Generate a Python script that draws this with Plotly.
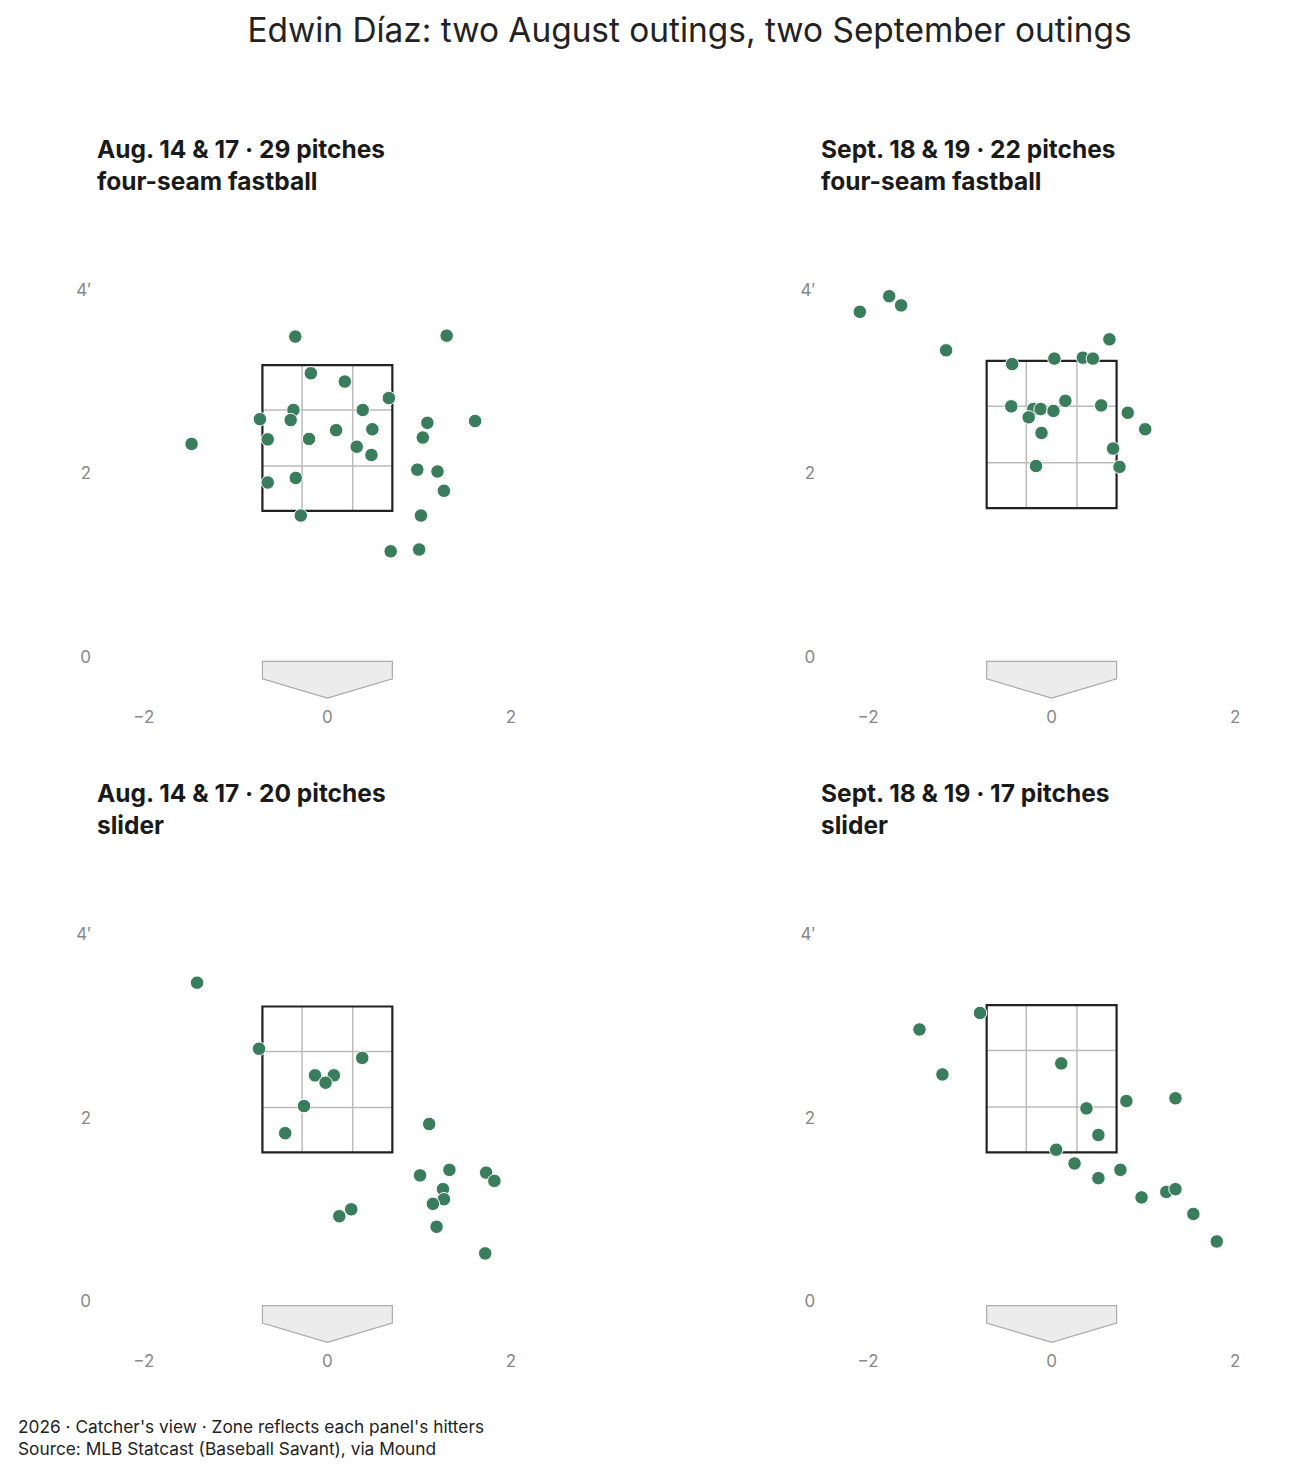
import plotly.graph_objects as go

# pitch locations, catcher's view (feet)
aug_ff_x = [-0.35, 1.30, -0.18, 0.19, 0.67, -0.37, 0.385, -0.735, -0.40, 1.09, 1.61, 0.095, 0.49, -0.65,
            -0.20, -1.48, 1.04, 0.32, 0.48, 0.98, 1.20, -0.345, -0.65, 1.27, -0.29, 1.02, 0.69, 1.00, 0.32]
aug_ff_z = [3.49, 3.50, 3.09, 3.00, 2.82, 2.69, 2.69, 2.59, 2.58, 2.55, 2.57, 2.47, 2.48, 2.37,
            2.375, 2.32, 2.39, 2.29, 2.20, 2.04, 2.02, 1.95, 1.90, 1.81, 1.54, 1.54, 1.15, 1.17, 2.29]

sep_ff_x = [-2.09, -1.77, -1.64, -1.15, 0.63, -0.43, 0.03, 0.34, 0.45, -0.44, -0.20,
            -0.12, 0.02, 0.15, 0.54, -0.25, 0.83, 1.02, -0.11, 0.67, -0.17, 0.74]
sep_ff_z = [3.76, 3.93, 3.83, 3.34, 3.46, 3.19, 3.25, 3.26, 3.25, 2.73, 2.70,
            2.70, 2.68, 2.79, 2.74, 2.61, 2.66, 2.48, 2.44, 2.27, 2.08, 2.07]

aug_sl_x = [-1.42, -0.745, 0.38, -0.135, 0.07, -0.02, -0.255, -0.46, 1.11, 1.01,
            1.33, 1.73, 1.82, 1.26, 1.27, 1.15, 0.26, 0.13, 1.19, 1.72]
aug_sl_z = [3.47, 2.75, 2.65, 2.46, 2.46, 2.38, 2.125, 1.83, 1.93, 1.37,
            1.43, 1.40, 1.31, 1.22, 1.11, 1.06, 1.00, 0.925, 0.81, 0.52]

sep_sl_x = [-1.44, -0.78, -1.19, 0.105, 0.38, 0.815, 1.35, 0.51, 0.05,
            0.25, 0.51, 0.75, 0.98, 1.25, 1.35, 1.545, 1.80]
sep_sl_z = [2.96, 3.14, 2.47, 2.59, 2.10, 2.18, 2.21, 1.81, 1.65,
            1.50, 1.34, 1.43, 1.13, 1.19, 1.22, 0.95, 0.65]

# strike zone top / bottom for each panel's hitters
sz_top = [3.18, 3.225, 3.21, 3.225]
sz_bot = [1.59, 1.62, 1.62, 1.62]

title_line1 = ["Aug. 14 & 17 · 29 pitches", "Sept. 18 & 19 · 22 pitches",
               "Aug. 14 & 17 · 20 pitches", "Sept. 18 & 19 · 17 pitches"]
title_line2 = ["four-seam fastball", "four-seam fastball", "slider", "slider"]

y_tickvals = [0, 2, 4]
y_ticktext = ["0", "2", "4′"]
x_tickvals = [-2, 0, 2]

HALF_PLATE = 0.708
BALL_R = 0.12
GREEN = "#3a7d5c"
FONT = "Inter"
PANEL_H = 504.6  # px height of one panel

panels = [(aug_ff_x, aug_ff_z), (sep_ff_x, sep_ff_z), (aug_sl_x, aug_sl_z), (sep_sl_x, sep_sl_z)]
x_domains = [[0, 0.3878], [0.6122, 1.0], [0, 0.3878], [0.6122, 1.0]]
y_domains = [[0.5607, 1.0], [0.5607, 1.0], [0, 0.4393], [0, 0.4393]]

fig = go.Figure()
shapes = []
annotations = []

for i, (xs, zs) in enumerate(panels):
    ax = "" if i == 0 else str(i + 1)
    fig.add_trace(go.Scatter(
        x=xs, y=zs, xaxis="x" + ax, yaxis="y" + ax, mode="markers",
        marker=dict(size=13.5, color=GREEN, line=dict(color="white", width=1)),
        hoverinfo="skip", showlegend=False,
    ))

    fig.update_layout(**{
        "xaxis" + ax: dict(domain=x_domains[i], range=[-2.5, 2.5], anchor="y" + ax,
                           tickvals=x_tickvals, showgrid=False, zeroline=False, showline=False,
                           ticks="", ticklabelstandoff=2,
                           tickfont=dict(size=17, color="#888888", family=FONT), fixedrange=True),
        "yaxis" + ax: dict(domain=y_domains[i], range=[-0.5, 5.0], anchor="x" + ax,
                           tickvals=y_tickvals, ticktext=y_ticktext, showgrid=False, zeroline=False,
                           showline=False, ticks="", ticklabelstandoff=6,
                           tickfont=dict(size=17, color="#888888", family=FONT), fixedrange=True),
    })

    xr, yr = "x" + ax, "y" + ax
    top, bot = sz_top[i], sz_bot[i]
    # inner grid: thirds of the zone widened by a ball radius
    gw = (HALF_PLATE + BALL_R) * 2 / 3
    glo = bot - BALL_R
    gh = (top - bot + 2 * BALL_R) / 3
    for gx in [-gw / 2, gw / 2]:
        shapes.append(dict(type="line", xref=xr, yref=yr, x0=gx, x1=gx, y0=bot, y1=top,
                           line=dict(color="#bbbbbb", width=1.5), layer="below"))
    for gy in [glo + gh, glo + 2 * gh]:
        shapes.append(dict(type="line", xref=xr, yref=yr, x0=-HALF_PLATE, x1=HALF_PLATE, y0=gy, y1=gy,
                           line=dict(color="#bbbbbb", width=1.5), layer="below"))
    shapes.append(dict(type="rect", xref=xr, yref=yr, x0=-HALF_PLATE, x1=HALF_PLATE, y0=bot, y1=top,
                       line=dict(color="#222222", width=2.2), layer="below"))
    # home plate
    h = HALF_PLATE
    shapes.append(dict(type="path", xref=xr, yref=yr,
                       path=f"M {-h},-0.05 L {h},-0.05 L {h},-0.24 L 0,-0.45 L {-h},-0.24 Z",
                       fillcolor="#ececec", line=dict(color="#aaaaaa", width=1.2), layer="below"))

    # two-line bold panel heading
    annotations.append(dict(
        text="<b>" + title_line1[i] + "</b><br><b>" + title_line2[i] + "</b>",
        xref=xr + " domain", yref=yr + " domain", x=0, y=1 + 33 / PANEL_H,
        xanchor="left", yanchor="middle", align="left", showarrow=False, xshift=-2,
        borderpad=0, font=dict(size=24.5, color="#1a1a1a", family=FONT),
    ))

annotations.append(dict(
    text="2026 · Catcher's view · Zone reflects each panel's hitters<br>Source: MLB Statcast (Baseball Savant), via Mound",
    xref="paper", yref="paper", x=-0.0693, y=-0.0785, xanchor="left", yanchor="middle",
    align="left", showarrow=False, font=dict(size=17.3, color="#222222", family=FONT),
))

fig.update_layout(
    width=1296, height=1474,
    margin=dict(l=90, r=23, t=190, b=135),
    paper_bgcolor="white", plot_bgcolor="white",
    title=dict(text="Edwin Díaz: two August outings, two September outings",
               x=0.5, xref="paper", y=1 - 22 / 1474, yref="container", yanchor="middle", xanchor="center",
               font=dict(size=33.4, color="#222222", family=FONT)),
    shapes=shapes, annotations=annotations,
    font=dict(family=FONT),
)

fig.write_html("out.html")
